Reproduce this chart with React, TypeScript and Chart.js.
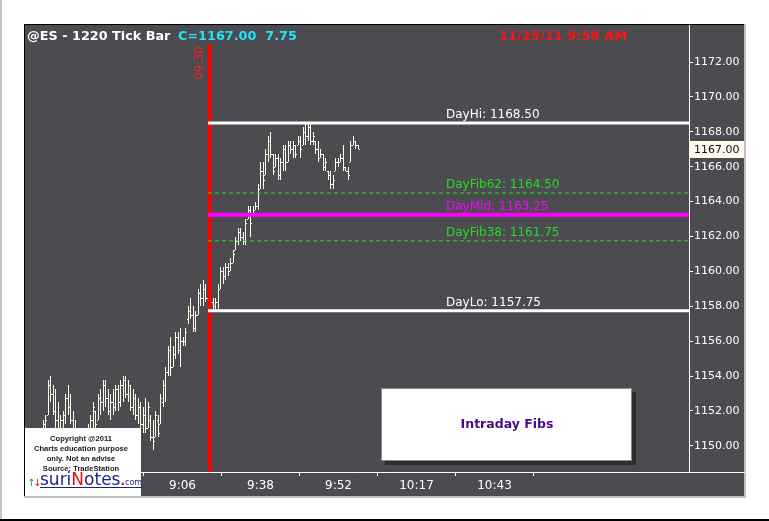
import React, { useEffect, useRef } from 'react';
import { Chart, registerables } from 'chart.js';

Chart.register(...registerables);

// ---------- DATA ----------
const highs = [
  1151.5, 1151.75, 1153.75, 1154.0, 1153.5, 1153.25, 1152.5, 1151.75, 1152.0, 1153.0,
  1153.5, 1153.0, 1152.0, 1151.5, 1151.0, 1151.0, 1150.75, 1151.0, 1151.25, 1151.75,
  1152.5, 1152.0, 1153.0, 1153.25, 1153.75, 1153.75, 1153.25, 1153.0, 1153.25, 1153.5,
  1153.5, 1153.75, 1154.0, 1154.0, 1153.75, 1153.5, 1153.25, 1153.0, 1152.75, 1152.5,
  1152.25, 1152.75, 1152.5, 1151.75, 1151.5, 1152.0, 1151.75, 1153.0, 1153.75, 1154.5,
  1155.75, 1156.25, 1155.75, 1156.5, 1156.5, 1156.75, 1156.25, 1156.75, 1158.0, 1158.5,
  1158.0, 1157.75, 1159.0, 1159.25, 1159.5, 1159.25, 1158.75, 1158.5, 1158.5, 1158.5,
  1159.25, 1160.25, 1160.25, 1160.5, 1160.5, 1160.75, 1161.25, 1162.0, 1162.5, 1162.5,
  1162.25, 1163.0, 1163.75, 1163.75, 1163.75, 1164.0, 1165.0, 1166.25, 1166.25, 1167.0,
  1167.75, 1168.0, 1166.75, 1166.75, 1166.75, 1166.5, 1167.25, 1167.25, 1167.5, 1167.5,
  1167.5, 1167.25, 1167.75, 1167.75, 1168.25, 1168.5, 1168.5, 1168.5, 1168.0, 1167.5,
  1167.5, 1167.0, 1166.75, 1166.5, 1165.75, 1165.75, 1165.5, 1166.5, 1166.5, 1166.75,
  1167.25, 1166.0, 1166.0, 1167.5, 1167.75, 1167.5, 1167.25,
];
const lows = [
  1150.5, 1150.75, 1151.75, 1152.5, 1151.75, 1151.0, 1150.75, 1150.5, 1150.75, 1151.25,
  1151.75, 1151.25, 1150.75, 1150.5, 1150.25, 1150.0, 1149.75, 1150.0, 1150.25, 1150.75,
  1151.0, 1150.75, 1151.5, 1151.75, 1152.0, 1152.25, 1151.75, 1151.5, 1151.75, 1152.0,
  1152.0, 1152.25, 1152.5, 1152.75, 1152.5, 1152.0, 1151.75, 1151.5, 1151.25, 1151.0,
  1150.75, 1150.75, 1151.0, 1150.25, 1149.75, 1150.5, 1150.5, 1151.25, 1152.25, 1152.5,
  1154.0, 1154.0, 1154.5, 1155.0, 1155.25, 1154.5, 1155.75, 1155.75, 1157.0, 1157.25,
  1156.5, 1156.5, 1157.5, 1158.0, 1158.0, 1158.25, 1157.75, 1157.75, 1157.75, 1157.75,
  1157.75, 1159.0, 1159.25, 1159.5, 1159.75, 1160.0, 1160.5, 1161.25, 1161.5, 1161.75,
  1161.5, 1161.5, 1163.0, 1162.0, 1163.25, 1163.5, 1163.5, 1164.75, 1164.75, 1165.5,
  1166.25, 1166.5, 1165.5, 1166.0, 1165.25, 1165.25, 1165.75, 1165.75, 1166.25, 1166.75,
  1166.5, 1166.5, 1167.25, 1166.5, 1167.25, 1167.25, 1167.5, 1167.25, 1167.25, 1166.75,
  1166.25, 1166.5, 1165.75, 1165.75, 1165.25, 1164.75, 1164.75, 1165.75, 1166.0, 1166.25,
  1165.75, 1165.75, 1165.25, 1166.25, 1167.25, 1167.0, 1167.0,
];
const opens = [
  1150.75, 1151.25, 1151.75, 1153.5, 1153.0, 1152.0, 1151.5, 1151.0, 1151.5, 1151.75,
  1152.75, 1152.25, 1151.5, 1151.0, 1150.75, 1150.5, 1150.25, 1150.5, 1150.75, 1151.0,
  1151.5, 1152.0, 1151.5, 1152.75, 1152.5, 1153.5, 1152.75, 1152.0, 1152.5, 1152.25,
  1153.25, 1152.5, 1153.5, 1153.75, 1153.0, 1153.5, 1152.25, 1152.75, 1151.75, 1152.25,
  1151.25, 1151.75, 1151.0, 1151.5, 1150.5, 1150.5, 1151.5, 1151.25, 1152.5, 1153.5,
  1154.25, 1155.5, 1154.5, 1155.25, 1156.25, 1155.5, 1156.0, 1156.0, 1157.25, 1157.75,
  1157.5, 1156.75, 1157.5, 1158.75, 1158.5, 1159.0, 1158.5, 1158.0, 1158.25, 1158.0,
  1158.25, 1159.0, 1160.0, 1159.75, 1160.25, 1160.0, 1160.5, 1161.25, 1161.75, 1162.25,
  1162.0, 1161.75, 1163.0, 1163.5, 1163.25, 1163.5, 1163.75, 1164.75, 1165.75, 1165.5,
  1166.75, 1167.5, 1166.75, 1166.0, 1166.5, 1165.5, 1166.25, 1167.0, 1166.25, 1167.25,
  1167.0, 1167.25, 1167.25, 1167.5, 1167.25, 1168.0, 1167.75, 1168.25, 1167.5, 1167.5,
  1167.0, 1166.5, 1166.75, 1166.0, 1165.75, 1165.5, 1165.0, 1165.75, 1166.25, 1166.25,
  1166.5, 1166.0, 1165.75, 1166.25, 1167.25, 1167.5, 1167.25,
];
const closes = [
  1151.25, 1151.5, 1153.5, 1153.0, 1152.0, 1151.5, 1151.0, 1151.5, 1151.75, 1152.75,
  1152.25, 1151.5, 1151.0, 1150.75, 1150.5, 1150.25, 1150.5, 1150.75, 1151.0, 1151.5,
  1152.25, 1151.25, 1152.75, 1152.5, 1153.5, 1152.75, 1152.0, 1152.5, 1152.25, 1153.25,
  1152.5, 1153.5, 1153.75, 1153.0, 1153.5, 1152.25, 1152.75, 1151.75, 1152.25, 1151.25,
  1151.75, 1151.0, 1152.25, 1150.5, 1150.25, 1151.75, 1150.75, 1152.75, 1153.5, 1154.25,
  1155.5, 1154.5, 1155.25, 1156.25, 1155.5, 1156.0, 1156.0, 1156.5, 1157.75, 1157.5,
  1156.75, 1157.5, 1158.75, 1158.5, 1159.0, 1158.5, 1158.0, 1158.25, 1158.0, 1158.25,
  1159.0, 1160.0, 1159.75, 1160.25, 1160.0, 1160.5, 1161.0, 1161.75, 1162.25, 1162.0,
  1161.75, 1162.75, 1163.5, 1162.75, 1163.5, 1163.75, 1164.75, 1165.75, 1165.25, 1166.75,
  1167.5, 1166.75, 1165.75, 1166.5, 1165.5, 1166.25, 1167.0, 1166.25, 1167.25, 1167.0,
  1167.25, 1166.75, 1167.5, 1167.0, 1168.0, 1167.75, 1168.25, 1167.5, 1167.75, 1167.0,
  1166.5, 1166.75, 1166.0, 1166.25, 1165.5, 1165.0, 1165.25, 1166.25, 1166.25, 1166.5,
  1166.0, 1165.75, 1165.5, 1167.25, 1167.5, 1167.25, 1167.0,
];

const timeTickIndex = [55.8, 87.0, 118.2, 149.4, 180.6];
const timeTickLabels = ['9:06', '9:38', '9:52', '10:17', '10:43'];
const priceTicks = [1150, 1152, 1154, 1156, 1158, 1160, 1162, 1164, 1166, 1168, 1170, 1172];

const levelNames = ['DayHi', 'DayFib62', 'DayMid', 'DayFib38', 'DayLo'];
const levelValues = [1168.5, 1164.5, 1163.25, 1161.75, 1157.75];

const sessionOpenIndex = 66.7; // 09:30 marker
const sessionOpenLabel = '09:30';
const lastPrice = 1167.0;
const netChange = 7.75;
const symbolTitle = '@ES - 1220 Tick Bar';
const dateTitle = '11/25/11 9:58 AM';
const boxTitle = 'Intraday Fibs';
const copyrightLines = ['Copyright @2011', 'Charts education purpose', 'only. Not an advise', 'Source: TradeStation'];

// ---------- STYLE ----------
const X_MIN = -7.2;
const X_MAX = 258.4;
const Y_MIN = 1148.5;
const Y_MAX = 1174.125;
const MARKER_TOP = 1173.0;
const LABEL_INDEX = 161.2;
const LEVEL_START_INDEX = 66.0;
const PANEL = '#4b4b50';
const BAR = '#fffff0';
const levelColors = ['#ffffff', '#22dd22', '#ff00ff', '#22dd22', '#ffffff'];
const levelWidths = [3, 1, 4, 1, 3];
const levelDashes = [[], [4, 3], [], [4, 3], []];
const FONT = '"DejaVu Sans", sans-serif';

const framePlugin = {
  id: 'frame',
  beforeDraw(chart: any) {
    const { ctx, width, height } = chart;
    ctx.save();
    ctx.fillStyle = '#ffffff';
    ctx.fillRect(0, 0, width, height);
    ctx.fillStyle = '#c4c4c4';
    ctx.fillRect(0, 0, 2, height);
    ctx.fillStyle = '#000000';
    ctx.fillRect(0, 519, width, 2);
    ctx.fillStyle = PANEL;
    ctx.fillRect(24, 24, 721, 473);
    ctx.fillStyle = '#000000';
    ctx.fillRect(24, 24, 721, 1);
    ctx.fillRect(24, 24, 1, 473);
    ctx.fillStyle = '#c0c0c0';
    ctx.fillRect(744, 24, 2, 473);
    ctx.fillRect(24, 496, 722, 2);
    ctx.restore();
  },
};

const snapPlugin = {
  id: 'snap',
  afterDatasetsUpdate(chart: any) {
    const meta = chart.getDatasetMeta(0);
    meta.data.forEach((el: any) => {
      el.x = Math.floor(el.x) + 0.5;
      el.y = Math.round(el.y);
      el.base = Math.round(el.base);
    });
  },
  afterDatasetDraw(chart: any, args: any) {
    if (args.index !== 0) return;
    const { ctx } = chart;
    const ys = chart.scales.y;
    const meta = chart.getDatasetMeta(0);
    const a = chart.chartArea;
    ctx.save();
    ctx.beginPath();
    ctx.rect(a.left, a.top, a.right - a.left, a.bottom - a.top);
    ctx.clip();
    ctx.fillStyle = BAR;
    meta.data.forEach((el: any, i: number) => {
      const px = el.x - 0.5;
      const oy = Math.round(ys.getPixelForValue(opens[i]));
      const cy = Math.round(ys.getPixelForValue(closes[i]));
      ctx.fillRect(px - 1, oy, 1, 1);
      ctx.fillRect(px + 1, cy, 1, 1);
    });
    ctx.restore();
  },
};

const overlayPlugin = {
  id: 'overlay',
  afterDraw(chart: any) {
    const { ctx } = chart;
    const xs = chart.scales.x;
    const ys = chart.scales.y;
    const area = chart.chartArea;
    ctx.save();

    ctx.fillStyle = '#ffffff';
    ctx.fillRect(area.right, area.bottom, 745 - area.right, 1);

    // header
    ctx.textBaseline = 'middle';
    ctx.textAlign = 'left';
    ctx.font = `bold 12.8px ${FONT}`;
    ctx.fillStyle = '#ffffff';
    ctx.fillText(symbolTitle, 27, 37);
    ctx.fillStyle = '#22e4f7';
    ctx.fillText(`C=${lastPrice.toFixed(2)}  ${netChange.toFixed(2)}`, 178, 37);
    ctx.fillStyle = '#ff1414';
    ctx.font = `bold 13px ${FONT}`;
    ctx.fillText(dateTitle, 499, 37);

    // session open label (rotated)
    const ox = xs.getPixelForValue(sessionOpenIndex);
    ctx.save();
    ctx.translate(Math.round(ox - 10), 63);
    ctx.rotate(-Math.PI / 2);
    ctx.font = `11.5px ${FONT}`;
    ctx.fillStyle = '#ff2020';
    ctx.textAlign = 'center';
    ctx.textBaseline = 'middle';
    ctx.fillText(sessionOpenLabel, 0, 0);
    ctx.restore();

    // level labels
    ctx.font = `12px ${FONT}`;
    ctx.textAlign = 'left';
    ctx.textBaseline = 'bottom';
    const lx = xs.getPixelForValue(LABEL_INDEX);
    levelNames.forEach((n, i) => {
      ctx.fillStyle = levelColors[i];
      ctx.fillText(`${n}: ${levelValues[i].toFixed(2)}`, lx, ys.getPixelForValue(levelValues[i]) - 2);
    });

    // last price box
    const py = Math.round(ys.getPixelForValue(lastPrice));
    ctx.fillStyle = '#fffaea';
    ctx.fillRect(area.right + 1, py - 8, 54, 17);
    ctx.fillStyle = '#111111';
    ctx.font = `11px ${FONT}`;
    ctx.textBaseline = 'middle';
    ctx.fillText(lastPrice.toFixed(2), area.right + 5, py + 1);

    // Intraday Fibs box
    ctx.fillStyle = '#2e2e30';
    ctx.fillRect(385, 392, 251, 73);
    ctx.fillStyle = '#ffffff';
    ctx.fillRect(381, 388, 251, 73);
    ctx.strokeStyle = '#8a8a8a';
    ctx.lineWidth = 1;
    ctx.strokeRect(381.5, 388.5, 250, 72);
    ctx.fillStyle = '#4b0a86';
    ctx.font = `bold 12.5px ${FONT}`;
    ctx.textAlign = 'center';
    ctx.textBaseline = 'middle';
    ctx.fillText(boxTitle, 507, 425);

    // logo box
    ctx.fillStyle = '#ffffff';
    ctx.fillRect(25, 428, 116, 68);
    ctx.fillStyle = '#1a1a1a';
    ctx.font = 'bold 7.6px "Liberation Sans", sans-serif';
    ctx.textAlign = 'center';
    copyrightLines.forEach((t, i) => {
      ctx.fillText(t, 81, 438.5 + i * 10.3);
    });
    ctx.textAlign = 'left';
    ctx.textBaseline = 'alphabetic';
    ctx.font = `10px ${FONT}`;
    ctx.fillStyle = '#22aa22';
    ctx.fillText('\u2191', 27, 486);
    ctx.fillStyle = '#dd1111';
    ctx.fillText('\u2193', 33, 486);
    ctx.font = `17px ${FONT}`;
    let x = 40;
    const parts: [string, string][] = [['suri', '#1c1c8c'], ['N', '#e01010'], ['otes', '#1c1c8c']];
    parts.forEach(([t, c]) => {
      ctx.fillStyle = c;
      ctx.fillText(t, x, 485);
      x += ctx.measureText(t).width;
    });
    ctx.font = `bold 12px ${FONT}`;
    ctx.fillStyle = '#e01010';
    ctx.fillText('.', x, 485);
    x += ctx.measureText('.').width;
    ctx.font = `8px ${FONT}`;
    ctx.fillStyle = '#1c1c8c';
    ctx.fillText('com', x, 485);
    x += ctx.measureText('com').width;
    ctx.fillRect(40, 487, x - 40, 1);

    ctx.restore();
  },
};

export default function App() {
  const ref = useRef<HTMLCanvasElement | null>(null);

  useEffect(() => {
    if (!ref.current) return;
    Chart.defaults.font.family = FONT;
    const barData = highs.map((h, i) => ({ x: i, y: [lows[i], h] }));
    const levelSets = levelValues.map((v, i) => ({
      type: 'line' as const,
      label: levelNames[i],
      data: [{ x: LEVEL_START_INDEX, y: v }, { x: X_MAX, y: v }],
      borderColor: levelColors[i],
      borderWidth: levelWidths[i],
      borderDash: levelDashes[i],
      pointRadius: 0,
      order: 1,
    }));
    const chart = new Chart(ref.current, {
      type: 'bar',
      data: {
        datasets: [
          {
            type: 'bar',
            label: 'ES',
            data: barData as any,
            backgroundColor: BAR,
            borderWidth: 0,
            barThickness: 1,
            inflateAmount: 0,
            grouped: false,
            order: 10,
          } as any,
          ...levelSets,
          {
            type: 'line',
            label: sessionOpenLabel,
            data: [{ x: sessionOpenIndex, y: Y_MIN }, { x: sessionOpenIndex, y: MARKER_TOP }],
            borderColor: '#ff0000',
            borderWidth: 4,
            pointRadius: 0,
            order: 5,
          },
        ] as any,
      },
      options: {
        animation: false,
        responsive: false,
        devicePixelRatio: 1,
        layout: { padding: { left: 25, top: 25, right: 24, bottom: 24 } },
        plugins: { legend: { display: false }, tooltip: { enabled: false } },
        scales: {
          x: {
            type: 'linear',
            min: X_MIN,
            max: X_MAX,
            offset: false,
            afterBuildTicks: (s: any) => {
              s.ticks = timeTickIndex.map((v) => ({ value: v }));
            },
            afterFit: (s: any) => {
              s.height = 25;
            },
            grid: { drawOnChartArea: false, tickLength: 4, color: '#ffffff' },
            border: { color: '#ffffff', width: 1 },
            ticks: {
              color: '#ffffff',
              font: { size: 12, family: FONT },
              padding: 3,
              maxRotation: 0,
              autoSkip: false,
              callback: (_v: any, i: number) => timeTickLabels[i],
            },
          },
          y: {
            type: 'linear',
            position: 'right',
            min: Y_MIN,
            max: Y_MAX,
            afterBuildTicks: (s: any) => {
              s.ticks = priceTicks.map((v) => ({ value: v }));
            },
            afterFit: (s: any) => {
              s.width = 56;
            },
            grid: { drawOnChartArea: false, tickLength: 4, color: '#ffffff' },
            border: { color: '#ffffff', width: 1 },
            ticks: {
              color: '#ffffff',
              font: { size: 11, family: FONT },
              padding: 1,
              callback: (v: any) => Number(v).toFixed(2),
            },
          },
        },
      } as any,
      plugins: [framePlugin, snapPlugin, overlayPlugin],
    });
    return () => chart.destroy();
  }, []);

  return (
    <div style={{ position: 'absolute', left: 0, top: 0 }}>
      <canvas ref={ref} width={769} height={521} style={{ width: 769, height: 521, display: 'block' }} />
    </div>
  );
}
